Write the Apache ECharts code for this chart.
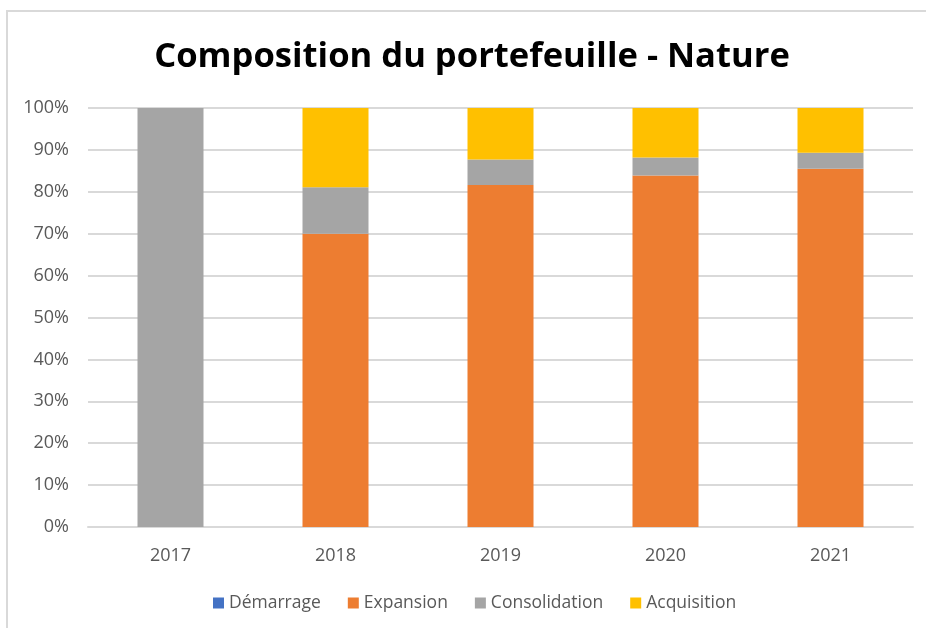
<!DOCTYPE html>
<html>
<head>
<meta charset="utf-8">
<script src="https://cdn.jsdelivr.net/npm/echarts@6/dist/echarts.min.js"></script>
<style>
  html, body { margin: 0; padding: 0; background: #fff; }
  #chart { width: 926px; height: 628px; }
</style>
</head>
<body>
<div id="chart"></div>
<script>
// données (en %)
var years = ['2017', '2018', '2019', '2020', '2021']
var demarrage = [0, 0, 0, 0, 0]
var expansion = [0, 70.0, 81.6, 83.9, 85.5]
var consolidation = [100, 11.1, 6.1, 4.3, 3.8]
var acquisition = [0, 18.9, 12.3, 11.8, 10.7]

var mycharts = echarts.init(document.getElementById('chart'))

function serie(name, color, data) {
  return {
    name: name,
    type: 'bar',
    stack: 'total',
    barWidth: 66,
    itemStyle: { color: color },
    data: data
  }
}

var option = {
  backgroundColor: '#fff',
  animation: false,
  title: {
    text: 'Composition du portefeuille - Nature',
    left: 467,
    textAlign: 'center',
    top: 35,
    textStyle: {
      fontFamily: 'Open Sans',
      fontWeight: 'bold',
      fontSize: 34.6,
      color: '#000'
    }
  },
  graphic: [
    {
      type: 'polyline',
      shape: { points: [[7, 628], [7, 11], [926, 11]] },
      style: { stroke: '#d9d9d9', lineWidth: 2, fill: null }
    }
  ],
  legend: {
    data: ['Démarrage', 'Expansion', 'Consolidation', 'Acquisition'],
    left: 208,
    top: 589,
    itemWidth: 11,
    itemHeight: 11,
    itemGap: 27,
    icon: 'rect',
    textStyle: { fontFamily: 'Open Sans', fontSize: 17.5, color: '#595959' }
  },
  grid: {
    left: 88,
    right: 13,
    top: 108,
    bottom: 101
  },
  xAxis: {
    type: 'category',
    data: years,
    axisLine: { lineStyle: { color: '#d9d9d9', width: 2 } },
    axisTick: { show: false },
    axisLabel: { color: '#595959', fontFamily: 'Open Sans', fontSize: 18, margin: 20 }
  },
  yAxis: {
    type: 'value',
    min: 0,
    max: 100,
    interval: 10,
    axisLine: { show: false },
    axisTick: { show: false },
    splitLine: { lineStyle: { color: '#d9d9d9', width: 2 } },
    axisLabel: {
      color: '#595959',
      fontFamily: 'Open Sans',
      fontSize: 18,
      margin: 19,
      formatter: '{value}%'
    }
  },
  series: [
    serie('Démarrage', '#4472c4', demarrage),
    serie('Expansion', '#ed7d31', expansion),
    serie('Consolidation', '#a5a5a5', consolidation),
    serie('Acquisition', '#ffc000', acquisition)
  ]
}
mycharts.setOption(option)
</script>
</body>
</html>
